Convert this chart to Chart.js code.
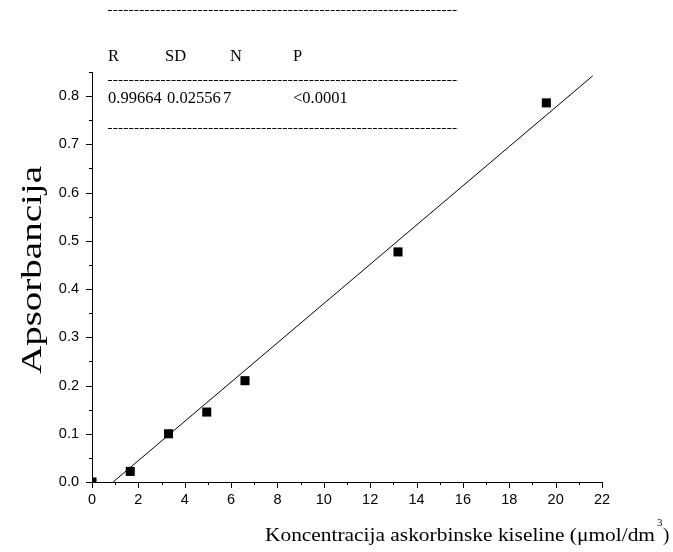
<!DOCTYPE html>
<html>
<head>
<meta charset="utf-8">
<script src="https://cdn.jsdelivr.net/npm/chart.js@4.4.1/dist/chart.umd.min.js"></script>
<style>
html,body{margin:0;padding:0;background:#fff;}
canvas{display:block;}
</style>
</head>
<body>
<canvas id="c" width="673" height="552"></canvas>
<script>
// ---- data ----
const concentration = [0, 1.65, 3.3, 4.95, 6.6, 13.2, 19.6];
const absorbance    = [0, 0.022, 0.100, 0.145, 0.210, 0.477, 0.786];
const fitX = [0.91, 21.6];
const fitY = [0, 0.842];
const tableHeader = ["R", "SD", "N", "P"];
const tableValues = ["0.99664", "0.02556", "7", "<0.0001"];
const xTitle = "Koncentracija askorbinske kiseline (\u03bcmol/dm";
const xTitleSup = "3";
const yTitle = "Apsorbancija";

const pts = concentration.map((x, i) => ({x: x, y: absorbance[i]}));
const fit = fitX.map((x, i) => ({x: x, y: fitY[i]}));

const SERIF = "'Liberation Serif', 'DejaVu Serif', serif";
const SANS = "'Liberation Sans', Arial, sans-serif";

// draw text stretched horizontally to a given width
function fitText(ctx, txt, x, y, targetW) {
  const w = ctx.measureText(txt).width;
  const k = targetW / w;
  ctx.save();
  ctx.translate(x, y);
  ctx.scale(k, 1);
  ctx.fillText(txt, 0, 0);
  ctx.restore();
}

const decor = {
  id: 'decor',
  afterDraw(chart) {
    const ctx = chart.ctx;
    const xs = chart.scales.x, ys = chart.scales.y;
    ctx.save();
    ctx.strokeStyle = '#000';
    ctx.lineWidth = 1;
    // tick marks (outside), major longer than minor
    ys.ticks.forEach(t => {
      const p = Math.round(ys.getPixelForValue(t.value)) + 0.5;
      const major = Math.round(t.value * 100) % 10 === 0;
      const L = major ? 6 : 3;
      ctx.beginPath();
      ctx.moveTo(xs.left - L, p); ctx.lineTo(xs.left, p); ctx.stroke();
    });
    xs.ticks.forEach(t => {
      const p = Math.round(xs.getPixelForValue(t.value)) + 0.5;
      const major = Math.round(t.value) % 2 === 0;
      const L = major ? 6 : 3;
      ctx.beginPath();
      ctx.moveTo(p, ys.bottom); ctx.lineTo(p, ys.bottom + L); ctx.stroke();
    });

    // statistics table
    ctx.fillStyle = '#000';
    ctx.font = '16.5px ' + SERIF;
    ctx.textBaseline = 'alphabetic';
    ctx.textAlign = 'left';
    const colX = [108, 165, 230, 293];
    tableHeader.forEach((h, i) => ctx.fillText(h, colX[i], 61));
    const valX = [108, 167, 223, 293];
    tableValues.forEach((v, i) => ctx.fillText(v, valX[i], 103));
    ctx.setLineDash([4, 1.3]);
    [10, 80, 128].forEach(y => {
      ctx.beginPath();
      ctx.moveTo(108, y + 0.5); ctx.lineTo(458, y + 0.5); ctx.stroke();
    });
    ctx.setLineDash([]);

    // y title
    ctx.save();
    ctx.translate(41, 270);
    ctx.rotate(-Math.PI / 2);
    ctx.font = '29px ' + SERIF;
    ctx.textBaseline = 'alphabetic';
    ctx.textAlign = 'left';
    fitText(ctx, yTitle, -104, 0, 208);
    ctx.restore();

    // x title with superscript
    ctx.font = '19px ' + SERIF;
    ctx.textAlign = 'left';
    const bx = 265, by = 541;
    fitText(ctx, xTitle, bx, by, 390);
    ctx.font = '11px ' + SERIF;
    ctx.fillText(xTitleSup, 657, by - 15);
    ctx.font = '19px ' + SERIF;
    ctx.fillText(')', 663, by);
    ctx.restore();
  }
};

new Chart(document.getElementById('c'), {
  type: 'scatter',
  data: {
    datasets: [
      {
        label: 'data',
        data: pts,
        pointStyle: 'rect',
        pointRadius: 6.4,
        pointHoverRadius: 6.4,
        backgroundColor: '#000',
        borderColor: '#000',
        borderWidth: 0,
        clip: 0,
        order: 1
      },
      {
        label: 'fit',
        data: fit,
        showLine: true,
        borderColor: '#000',
        borderWidth: 1,
        pointRadius: 0,
        pointHoverRadius: 0,
        fill: false,
        clip: 0,
        order: 2
      }
    ]
  },
  options: {
    responsive: false,
    animation: false,
    devicePixelRatio: 1,
    layout: {padding: {top: 72, right: 71, bottom: 0, left: 0}},
    plugins: {legend: {display: false}, tooltip: {enabled: false}},
    scales: {
      x: {
        type: 'linear',
        min: 0, max: 22,
        afterFit: s => { s.height = 70; },
        ticks: {
          stepSize: 1, autoSkip: false, maxRotation: 0,
          padding: 9, color: '#000',
          font: {family: SANS, size: 14.5},
          callback: v => (Math.round(v) % 2 === 0 ? String(Math.round(v)) : '')
        },
        grid: {display: false, drawTicks: false},
        border: {display: true, color: '#000', width: 1}
      },
      y: {
        type: 'linear',
        min: 0, max: 0.85,
        afterFit: s => { s.width = 92; },
        ticks: {
          stepSize: 0.05, autoSkip: false,
          padding: 13, color: '#000',
          font: {family: SANS, size: 14.5},
          callback: v => (Math.round(v * 100) % 10 === 0 ? v.toFixed(1) : '')
        },
        grid: {display: false, drawTicks: false},
        border: {display: true, color: '#000', width: 1}
      }
    }
  },
  plugins: [decor]
});
</script>
</body>
</html>
